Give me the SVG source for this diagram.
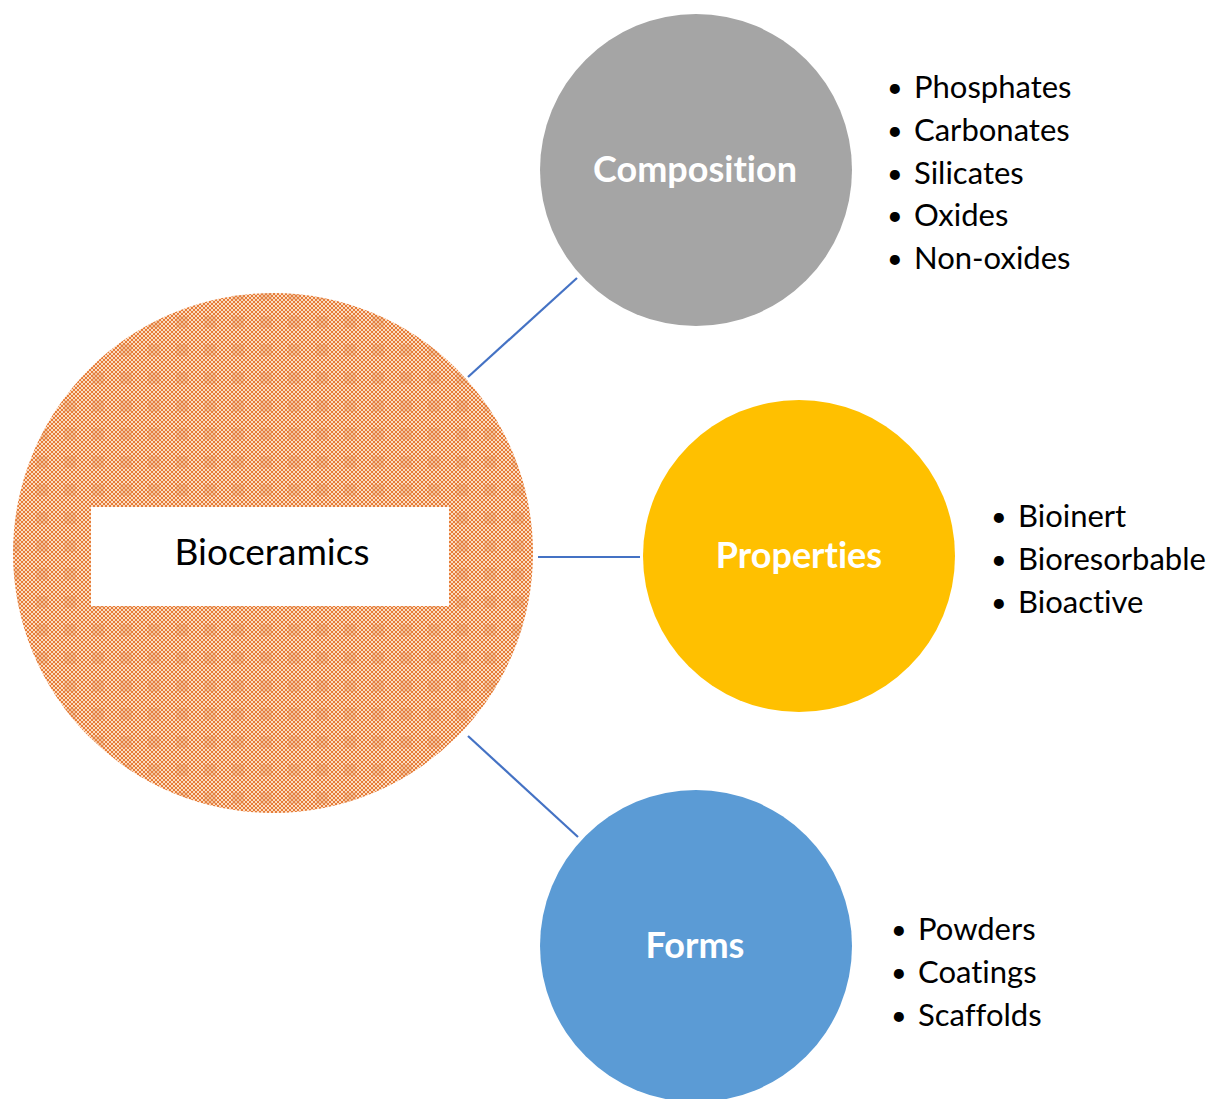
<svg xmlns="http://www.w3.org/2000/svg" width="1208" height="1099" viewBox="0 0 1208 1099">
<style>
text{font-variant-ligatures:none;font-feature-settings:"liga" 0,"clig" 0}
.lbl{font-family:Lato,"Open Sans","Liberation Sans",sans-serif;font-weight:bold;fill:#fff;text-anchor:middle}
.item{font-family:Lato,"Open Sans","Liberation Sans",sans-serif;font-size:31px;fill:#000}
.bul{font-family:Lato,"Open Sans","Liberation Sans",sans-serif;font-size:27px;fill:#000}
.conn{stroke:#4472c4;stroke-width:2.2;fill:none}
</style>
<defs>
<pattern id="small" width="4" height="4" patternUnits="userSpaceOnUse">
<rect width="4" height="4" fill="#fbdcc2"/>
<path d="M0 0L4 4M4 0L0 4" stroke="#e67c38" stroke-width="1"/>
</pattern>
<pattern id="big" width="28" height="28" patternUnits="userSpaceOnUse">
<rect width="28" height="28" fill="url(#small)"/>
<rect x="8" y="8" width="12" height="12" fill="#e08850" opacity="0.3"/>
</pattern>
</defs>
<rect width="1208" height="1099" fill="#fff"/>
<g id="connectors">
<line class="conn" x1="468" y1="377" x2="577" y2="278"/>
<line class="conn" x1="538" y1="557" x2="640" y2="557"/>
<line class="conn" x1="468" y1="736" x2="578" y2="837"/>
</g>
<g id="bioceramics">
<circle cx="273" cy="553" r="260" fill="url(#big)"/>
<rect x="91" y="507" width="358" height="99" fill="#fff"/>
<text x="272" y="565" font-family="Lato,'Open Sans','Liberation Sans',sans-serif" font-size="37" text-anchor="middle" fill="#000">Bioceramics</text>
</g>
<g id="composition">
<circle cx="696" cy="170" r="156" fill="#a5a5a5"/>
<text class="lbl" x="695" y="182" font-size="36">Composition</text>
</g>
<g id="composition-list">
<text class="bul" x="887" y="97">•</text><text class="item" x="914" y="98">Phosphates</text>
<text class="bul" x="887" y="140">•</text><text class="item" x="914" y="141">Carbonates</text>
<text class="bul" x="887" y="183">•</text><text class="item" x="914" y="184">Silicates</text>
<text class="bul" x="887" y="225">•</text><text class="item" x="914" y="226">Oxides</text>
<text class="bul" x="887" y="268">•</text><text class="item" x="914" y="269">Non-oxides</text>
</g>
<g id="properties">
<circle cx="799" cy="556" r="156" fill="#ffc000"/>
<text class="lbl" x="799" y="568" font-size="36">Properties</text>
</g>
<g id="properties-list">
<text class="bul" x="991" y="526">•</text><text class="item" x="1018" y="527">Bioinert</text>
<text class="bul" x="991" y="569">•</text><text class="item" x="1018" y="570">Bioresorbable</text>
<text class="bul" x="991" y="612">•</text><text class="item" x="1018" y="613">Bioactive</text>
</g>
<g id="forms">
<circle cx="696" cy="946" r="156" fill="#5b9bd5"/>
<text class="lbl" x="695" y="958" font-size="36">Forms</text>
</g>
<g id="forms-list">
<text class="bul" x="891" y="939">•</text><text class="item" x="918" y="940">Powders</text>
<text class="bul" x="891" y="982">•</text><text class="item" x="918" y="983">Coatings</text>
<text class="bul" x="891" y="1025">•</text><text class="item" x="918" y="1026">Scaffolds</text>
</g>
</svg>
